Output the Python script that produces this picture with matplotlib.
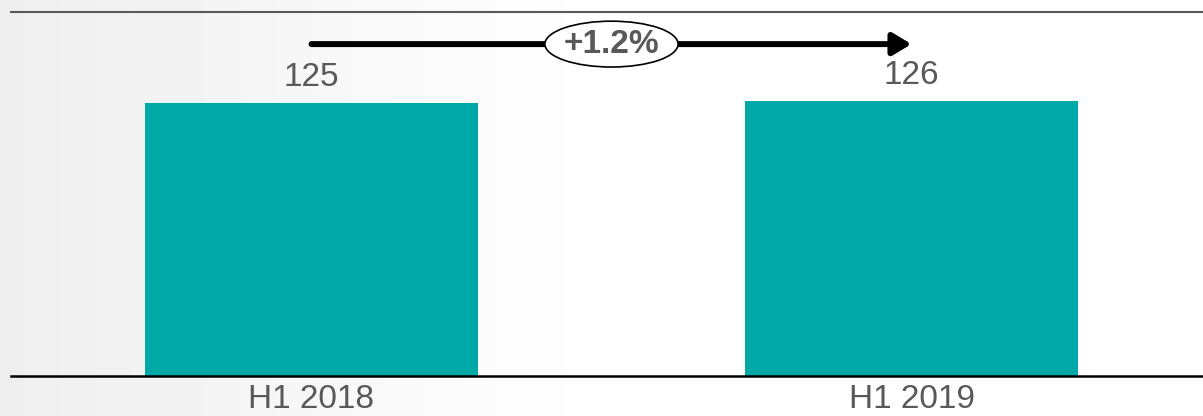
import numpy as np
import matplotlib
matplotlib.use("Agg")
import matplotlib.pyplot as plt
from matplotlib.patches import Ellipse

plt.rcParams['font.family'] = ['Liberation Sans', 'DejaVu Sans']

periods = ["H1 2018", "H1 2019"]
values = [125, 126]
growth_label = "+1.2%"

teal = "#00A8A8"
grey_text = "#595959"

fig = plt.figure(figsize=(12.03, 4.16), dpi=100)

# soft grey-to-white backdrop on the left
bg = fig.add_axes([0, 0, 1, 1], zorder=-1)
xs = np.linspace(0, 1, 400)
shade = np.clip(1 - xs / 0.5, 0, 1)
grad = 1 - 0.065 * shade
img = np.tile(grad, (50, 1))
bg.imshow(img, cmap="gray", vmin=0, vmax=1, aspect="auto", extent=[0, 1, 0, 1])
bg.axis("off")

W, H = 1203, 416
ax = fig.add_axes([11 / W, 40 / H, 1192 / W, 364 / H])
ax.patch.set_alpha(0)

x = np.arange(len(periods))
bars = ax.bar(x, values, width=0.555, color=teal, zorder=2)
ax.set_xlim(-0.5008, 1.4858)
ax.set_ylim(0, 166.7)

for b, v in zip(bars, values):
    ax.annotate(str(v), (b.get_x() + b.get_width() / 2, v), xytext=(0, 7),
                textcoords="offset points", ha="center", va="bottom",
                fontsize=24, color=grey_text)

# growth arrow between the two bars
arrow_y = 152
ax.annotate("", xy=(x[1], arrow_y), xytext=(x[0], arrow_y),
            arrowprops=dict(arrowstyle="-|>,head_length=0.5,head_width=0.3",
                            lw=4.3, color="black", shrinkA=0, shrinkB=0,
                            mutation_scale=22))
mid = (x[0] + x[1]) / 2
ax.add_patch(Ellipse((mid, arrow_y), 0.222, 21, facecolor="white",
                     edgecolor="black", lw=1.2, zorder=5))
ax.text(mid, arrow_y, growth_label, ha="center", va="center", fontsize=24,
        fontweight="bold", color=grey_text, zorder=6)

ax.set_xticks(x)
ax.set_xticklabels(periods, fontsize=24, color=grey_text)
ax.set_yticks([])
ax.tick_params(axis="x", length=0, pad=6)
for s in ["left", "right"]:
    ax.spines[s].set_visible(False)
ax.spines["top"].set_color("#595959")
ax.spines["top"].set_linewidth(1.5)
ax.spines["bottom"].set_color("black")
ax.spines["bottom"].set_linewidth(1.8)
ax.spines["bottom"].set_zorder(3)

fig.savefig("out.png", dpi=100)
